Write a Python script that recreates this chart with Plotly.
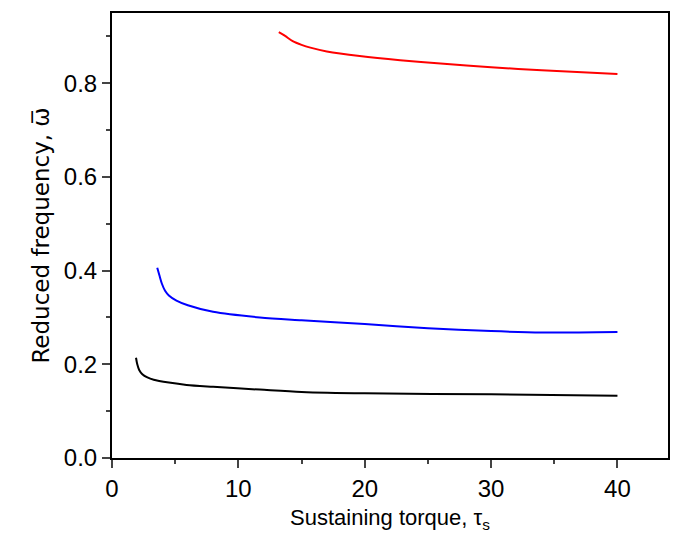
import plotly.graph_objects as go

red_x = [13.2, 13.7, 14.3, 15.0, 15.7, 17.0, 19.6, 22.8, 26.0, 30.0, 34.0, 40.0]
red_y = [0.909, 0.901, 0.890, 0.882, 0.876, 0.868, 0.858, 0.849, 0.842, 0.834, 0.828, 0.820]

blue_x = [3.58, 3.75, 3.95, 4.2, 4.5, 5.1, 6.0, 8.0, 11.7, 15.0, 20.0, 25.0, 30.0, 34.0, 40.0]
blue_y = [0.406, 0.390, 0.372, 0.357, 0.347, 0.336, 0.326, 0.312, 0.300, 0.294, 0.286, 0.277, 0.271, 0.268, 0.269]

black_x = [1.9, 2.0, 2.15, 2.4, 2.8, 3.3, 4.5, 5.9, 8.0, 11.7, 15.0, 20.0, 30.0, 40.0]
black_y = [0.214, 0.200, 0.188, 0.179, 0.172, 0.167, 0.161, 0.156, 0.152, 0.146, 0.141, 0.138, 0.136, 0.133]

fig = go.Figure()
for xs, ys, c in [(red_x, red_y, "#ff0000"), (blue_x, blue_y, "#0000ff"), (black_x, black_y, "#000000")]:
    fig.add_trace(go.Scatter(x=xs, y=ys, mode="lines",
                             line=dict(color=c, width=2, shape="spline", smoothing=0.8),
                             showlegend=False))

tick_font = dict(family="Liberation Sans, Arial, sans-serif", size=24, color="black")
xt_font = dict(family="Liberation Sans, Arial, sans-serif", size=22, color="black")
yt_font = dict(family="DejaVu Sans, sans-serif", size=23, color="black")

fig.update_layout(
    width=682, height=540,
    margin=dict(l=112, r=14, t=11, b=82),
    plot_bgcolor="white", paper_bgcolor="white",
    font=tick_font,
)
fig.update_xaxes(
    range=[0, 44], tickvals=[0, 10, 20, 30, 40], ticks="outside", ticklen=8, tickwidth=2,
    minor=dict(tickvals=[5, 15, 25, 35], ticks="outside", ticklen=4, tickwidth=2),
    showline=True, linecolor="black", linewidth=2, mirror=True, showgrid=False, zeroline=False,
    title=dict(text="Sustaining torque, τ<sub>s</sub>", font=xt_font, standoff=9),
    tickfont=tick_font,
)
fig.update_yaxes(
    range=[0, 0.95], tickvals=[0, 0.2, 0.4, 0.6, 0.8], ticktext=["0.0", "0.2", "0.4", "0.6", "0.8"],
    ticks="outside", ticklen=8, tickwidth=2,
    minor=dict(tickvals=[0.1, 0.3, 0.5, 0.7, 0.9], ticks="outside", ticklen=4, tickwidth=2),
    showline=True, linecolor="black", linewidth=2, mirror=True, showgrid=False, zeroline=False,
    title=dict(text="Reduced frequency, ω\u0305", font=yt_font, standoff=8),
    tickfont=tick_font,
)
fig.write_html("out.html")
